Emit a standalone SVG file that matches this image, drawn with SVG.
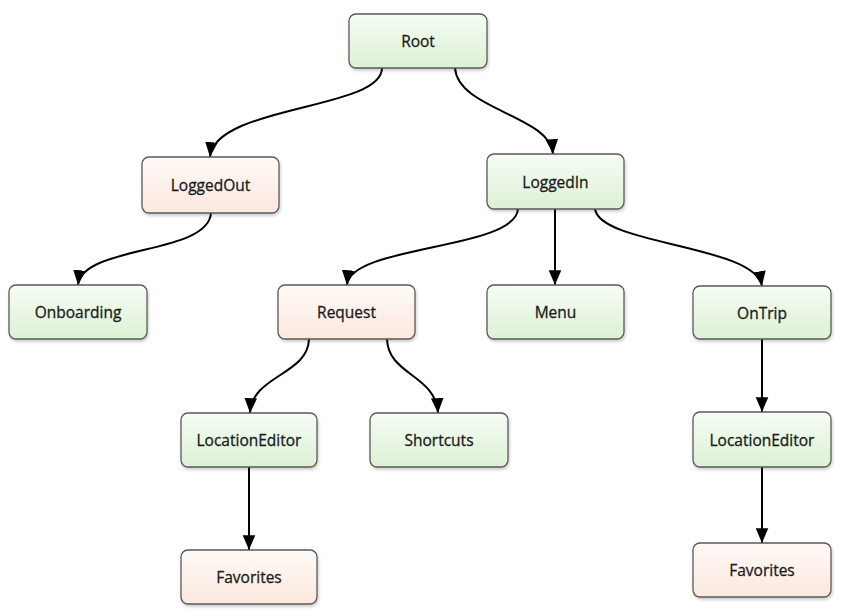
<svg xmlns="http://www.w3.org/2000/svg" width="847" height="616" viewBox="0 0 847 616">
<style>
.n rect{stroke:#5a5a5a;stroke-width:1.3;filter:url(#sh)}
.g rect{fill:url(#gg)}
.p rect{fill:url(#pg)}
.n text{font-family:"Open Sans","DejaVu Sans",sans-serif;font-size:15.5px;fill:#1a1a1a;stroke:#1a1a1a;stroke-width:0.3;text-anchor:middle;dominant-baseline:central}
#edges path{fill:none;stroke:#000;stroke-width:2;marker-end:url(#ar)}
</style>
<defs>
<linearGradient id="gg" x1="0" y1="0" x2="0" y2="1"><stop offset="0" stop-color="#f6fcf4"/><stop offset="1" stop-color="#dcf1d4"/></linearGradient>
<linearGradient id="pg" x1="0" y1="0" x2="0" y2="1"><stop offset="0" stop-color="#fefaf7"/><stop offset="1" stop-color="#fbe8dd"/></linearGradient>
<filter id="sh" x="-10%" y="-10%" width="130%" height="140%"><feDropShadow dx="1" dy="2" stdDeviation="1.5" flood-color="#000" flood-opacity="0.2"/></filter>
<marker id="ar" markerUnits="userSpaceOnUse" markerWidth="16" markerHeight="14" viewBox="0 0 14 12" refX="13" refY="6" orient="auto"><path d="M0,0.5 L13,6 L0,11.5 Z" fill="#000"/></marker>
</defs>
<g id="edges">
<path d="M382,68 C382,110 215,105 210,157"/>
<path d="M455,68 C458,110 550,115 553,154"/>
<path d="M211,213 C208,255 82,245 78,285"/>
<path d="M518,209 C515,250 350,245 347,285"/>
<path d="M555,209 L555,285"/>
<path d="M595,209 C600,245 755,245 762,286"/>
<path d="M309,339 C308,375 252,375 250,413"/>
<path d="M387,339 C388,375 436,375 438,413"/>
<path d="M249,467 L249,550"/>
<path d="M762,339 L762,412"/>
<path d="M762,467 L762,543"/>
</g>
<g id="root" class="n g"><rect x="349" y="14" width="138" height="54" rx="7"/><text x="418" y="41">Root</text></g>
<g id="loggedout" class="n p"><rect x="142" y="157" width="137" height="56" rx="7"/><text x="210.5" y="185">LoggedOut</text></g>
<g id="loggedin" class="n g"><rect x="487" y="154" width="137" height="55" rx="7"/><text x="555.5" y="182">LoggedIn</text></g>
<g id="onboarding" class="n g"><rect x="9" y="285" width="138" height="54" rx="7"/><text x="78" y="312">Onboarding</text></g>
<g id="request" class="n p"><rect x="278" y="285" width="137" height="54" rx="7"/><text x="346.5" y="312">Request</text></g>
<g id="menu" class="n g"><rect x="487" y="285" width="137" height="54" rx="7"/><text x="555.5" y="312">Menu</text></g>
<g id="ontrip" class="n g"><rect x="693" y="286" width="138" height="53" rx="7"/><text x="762" y="312.5">OnTrip</text></g>
<g id="loceditor1" class="n g"><rect x="181" y="413" width="136" height="54" rx="7"/><text x="249" y="440">LocationEditor</text></g>
<g id="shortcuts" class="n g"><rect x="370" y="413" width="138" height="54" rx="7"/><text x="439" y="440">Shortcuts</text></g>
<g id="favorites1" class="n p"><rect x="181" y="550" width="136" height="54" rx="7"/><text x="249" y="577">Favorites</text></g>
<g id="loceditor2" class="n g"><rect x="693" y="412" width="138" height="55" rx="7"/><text x="762" y="439.5">LocationEditor</text></g>
<g id="favorites2" class="n p"><rect x="693" y="543" width="138" height="54" rx="7"/><text x="762" y="570">Favorites</text></g>
</svg>
